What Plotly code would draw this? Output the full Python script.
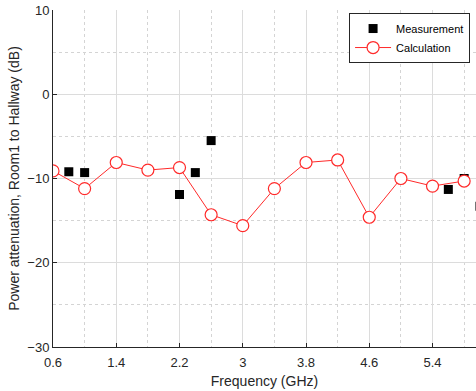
import plotly.graph_objects as go

# Calculation (red circles)
calc_freq = [0.6, 1.0, 1.4, 1.8, 2.2, 2.6, 3.0, 3.4, 3.8, 4.2, 4.6, 5.0, 5.4, 5.8]
calc_db = [-9.1, -11.2, -8.1, -9.0, -8.7, -14.3, -15.6, -11.2, -8.1, -7.8, -14.6, -10.0, -10.9, -10.3]

# Measurement (black squares)
meas_freq = [0.8, 1.0, 2.2, 2.4, 2.6, 5.6, 5.8, 6.0]
meas_db = [-9.2, -9.3, -11.9, -9.3, -5.5, -11.3, -10.0, -13.3]

x_ticks = [0.6, 1.4, 2.2, 3.0, 3.8, 4.6, 5.4]
x_ticklabels = ["0.6", "1.4", "2.2", "3", "3.8", "4.6", "5.4"]
y_ticks = [-30, -20, -10, 0, 10]

axis_color = "#262626"
font_family = "Liberation Sans, Arial, sans-serif"

fig = go.Figure()
fig.add_trace(go.Scatter(
    x=meas_freq, y=meas_db, mode="markers", name="Measurement",
    marker=dict(symbol="square", size=9, color="black", line=dict(width=0)),
))
fig.add_trace(go.Scatter(
    x=calc_freq, y=calc_db, mode="lines+markers", name="Calculation",
    line=dict(color="#ff2a2a", width=1),
    marker=dict(symbol="circle", size=12, color="white", line=dict(color="#ff2a2a", width=1.2)),
))

fig.update_layout(
    width=476, height=391,
    margin=dict(l=53, r=0, t=10, b=44),
    paper_bgcolor="white", plot_bgcolor="white",
    font=dict(family=font_family, size=13, color=axis_color),
    showlegend=True,
    legend=dict(
        x=0.986, y=0.991, xanchor="right", yanchor="top",
        bgcolor="white", bordercolor="#262626", borderwidth=1,
        font=dict(size=11, color="black"),
        tracegroupgap=0, itemwidth=36,
    ),
)

fig.update_xaxes(
    range=[0.6, 5.95],
    tickvals=x_ticks, ticktext=x_ticklabels,
    showline=True, linecolor=axis_color, linewidth=1, mirror=False,
    ticks="inside", ticklen=4, tickcolor=axis_color,
    ticklabelstandoff=3,
    showgrid=True, gridcolor="#dcdcdc", gridwidth=1,
    minor=dict(dtick=0.4, tick0=0.6, showgrid=True, griddash="dot", gridcolor="#d4d4d4", gridwidth=1, ticks=""),
    zeroline=False,
    title=dict(text="Frequency (GHz)", font=dict(size=14, color=axis_color), standoff=7),
    tickfont=dict(size=13, color=axis_color),
)
fig.update_yaxes(
    range=[-30, 10],
    tickvals=y_ticks,
    showline=True, linecolor=axis_color, linewidth=1, mirror=False,
    ticks="inside", ticklen=4, tickcolor=axis_color,
    showgrid=True, gridcolor="#dcdcdc", gridwidth=1,
    minor=dict(dtick=5, tick0=-30, showgrid=True, griddash="dot", gridcolor="#d4d4d4", gridwidth=1, ticks=""),
    zeroline=False,
    title=dict(text="Power attenuation, Room1 to Hallway (dB)", font=dict(size=14, color=axis_color), standoff=4),
    tickfont=dict(size=13, color=axis_color),
)

fig.write_html("out.html")
